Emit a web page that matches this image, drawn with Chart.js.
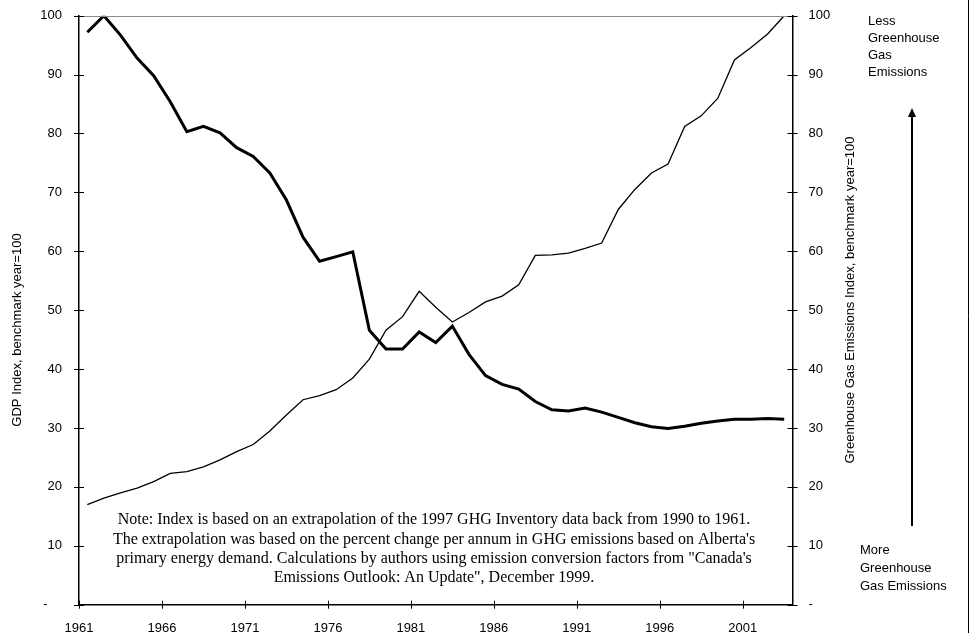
<!DOCTYPE html>
<html>
<head>
<meta charset="utf-8">
<script src="https://cdn.jsdelivr.net/npm/chart.js@4/dist/chart.umd.min.js"></script>
<style>
  html, body { margin: 0; padding: 0; background: #fff; }
  #chart { display: block; }
</style>
</head>
<body>
<canvas id="chart" width="971" height="633"></canvas>
<script>
// Years, one point per year, drawn in the middle of each year slot
const years = [1961, 1962, 1963, 1964, 1965, 1966, 1967, 1968, 1969, 1970,
  1971, 1972, 1973, 1974, 1975, 1976, 1977, 1978, 1979, 1980,
  1981, 1982, 1983, 1984, 1985, 1986, 1987, 1988, 1989, 1990,
  1991, 1992, 1993, 1994, 1995, 1996, 1997, 1998, 1999, 2000,
  2001, 2002, 2003]

// Thin line, rising (GDP index)
const gdpIndex = [17.0, 18.1, 19.0, 19.8, 20.9, 22.3, 22.6, 23.4, 24.6, 26.0,
  27.2, 29.5, 32.2, 34.8, 35.5, 36.5, 38.5, 41.7, 46.6, 48.9,
  53.2, 50.5, 48.0, 49.6, 51.4, 52.4, 54.3, 59.3, 59.4, 59.7,
  60.5, 61.4, 67.1, 70.5, 73.3, 74.8, 81.2, 83.0, 86.0, 92.5,
  94.6, 96.9, 100.0]

// Thick line, falling (GHG emissions index)
const ghgIndex = [97.2, 100.0, 96.7, 92.8, 89.8, 85.4, 80.3, 81.2, 80.1, 77.6,
  76.1, 73.3, 68.7, 62.4, 58.3, 59.1, 59.9, 46.6, 43.4, 43.4,
  46.3, 44.5, 47.3, 42.5, 38.9, 37.4, 36.6, 34.5, 33.1, 32.9,
  33.4, 32.7, 31.8, 30.9, 30.2, 29.9, 30.3, 30.8, 31.2, 31.5,
  31.5, 31.6, 31.5]

const xTickYears = [1961, 1966, 1971, 1976, 1981, 1986, 1991, 1996, 2001]
const yTicks = [0, 10, 20, 30, 40, 50, 60, 70, 80, 90, 100]

const noteLines = [
  'Note: Index is based on an extrapolation of the 1997 GHG Inventory data back from 1990 to 1961.',
  'The extrapolation was based on the percent change per annum in GHG emissions based on Alberta\'s',
  'primary energy demand. Calculations by authors using emission conversion factors from "Canada\'s',
  'Emissions Outlook: An Update", December 1999.'
]
const lessLines = ['Less', 'Greenhouse', 'Gas', 'Emissions']
const moreLines = ['More', 'Greenhouse', 'Gas Emissions']

const SANS = '"Liberation Sans", Arial, sans-serif'
const SERIF = '"Liberation Serif", "Times New Roman", serif'

const toPoints = (vals) => vals.map((v, i) => ({ x: years[i] + 0.5, y: v }))

// Crossing tick marks, titles, note, arrow and frame
const extras = {
  id: 'extras',
  afterDraw(chart) {
    const ctx = chart.ctx
    const area = chart.chartArea
    const xs = chart.scales.x
    const yl = chart.scales.y
    const yr = chart.scales.y2
    ctx.save()

    // gray top border of the plot
    ctx.strokeStyle = '#8c8c8c'
    ctx.lineWidth = 1
    ctx.beginPath()
    ctx.moveTo(area.left, Math.round(area.top) + 0.5)
    ctx.lineTo(area.right, Math.round(area.top) + 0.5)
    ctx.stroke()

    // tick marks that cross the axes
    ctx.strokeStyle = '#000'
    ctx.lineWidth = 1
    ctx.beginPath()
    yTicks.forEach(v => {
      const py = Math.round(yl.getPixelForValue(v)) + 0.5
      ctx.moveTo(area.left - 5, py); ctx.lineTo(area.left + 5, py)
      const pr = Math.round(yr.getPixelForValue(v)) + 0.5
      ctx.moveTo(area.right - 5, pr); ctx.lineTo(area.right + 5, pr)
    })
    xTickYears.forEach(v => {
      const px = Math.round(xs.getPixelForValue(v)) + 0.5
      ctx.moveTo(px, area.bottom - 4); ctx.lineTo(px, area.bottom + 4)
    })
    ctx.stroke()

    // axis titles
    ctx.fillStyle = '#000'
    ctx.font = '13px ' + SANS
    ctx.textAlign = 'center'
    ctx.textBaseline = 'middle'
    ctx.save()
    ctx.translate(17, 330)
    ctx.rotate(-Math.PI / 2)
    ctx.fillText('GDP Index, benchmark year=100', 0, 0)
    ctx.restore()
    ctx.save()
    ctx.translate(850, 300)
    ctx.rotate(-Math.PI / 2)
    ctx.fillText('Greenhouse Gas Emissions Index, benchmark year=100', 0, 0)
    ctx.restore()

    // side annotations
    ctx.textAlign = 'left'
    lessLines.forEach((t, i) => ctx.fillText(t, 868, 21 + i * 17.3))
    moreLines.forEach((t, i) => ctx.fillText(t, 860, 550 + i * 18))

    // arrow
    ctx.lineWidth = 2
    ctx.beginPath()
    ctx.moveTo(912, 526); ctx.lineTo(912, 114)
    ctx.stroke()
    ctx.beginPath()
    ctx.moveTo(912, 108); ctx.lineTo(916, 117); ctx.lineTo(908, 117)
    ctx.closePath()
    ctx.fill()

    // note
    ctx.font = '16px ' + SERIF
    ctx.textAlign = 'center'
    noteLines.forEach((t, i) => ctx.fillText(t, 434, 520 + i * 19.3))

    // frame line at right edge
    ctx.lineWidth = 1
    ctx.beginPath()
    ctx.moveTo(968.5, 0); ctx.lineTo(968.5, 633)
    ctx.stroke()

    ctx.restore()
  }
}

const noPad = (scale) => {
  scale.paddingTop = 0
  scale.paddingBottom = 0
}

new Chart(document.getElementById('chart'), {
  type: 'line',
  data: {
    datasets: [
      {
        label: 'GDP Index',
        data: toPoints(gdpIndex),
        borderColor: '#000',
        borderWidth: 1.3,
        pointRadius: 0,
        tension: 0,
        yAxisID: 'y'
      },
      {
        label: 'GHG Emissions Index',
        data: toPoints(ghgIndex),
        borderColor: '#000',
        borderWidth: 3,
        pointRadius: 0,
        tension: 0,
        yAxisID: 'y2'
      }
    ]
  },
  options: {
    responsive: false,
    animation: false,
    layout: { padding: { top: 15.7, left: 0, right: 0, bottom: 0 } },
    plugins: {
      legend: { display: false },
      tooltip: { enabled: false }
    },
    scales: {
      x: {
        type: 'linear',
        min: 1961,
        max: 2004,
        afterBuildTicks: (scale) => { scale.ticks = xTickYears.map(v => ({ value: v })) },
        afterFit: (scale) => {
          scale.height = 28.3
          scale.paddingLeft = 0
          scale.paddingRight = 0
        },
        grid: { display: false, drawTicks: false },
        border: { color: '#000', width: 1.5 },
        ticks: {
          color: '#000',
          font: { family: SANS, size: 13 },
          padding: 15.5,
          maxRotation: 0,
          autoSkip: false,
          callback: (v) => String(v)
        }
      },
      y: {
        position: 'left',
        min: 0,
        max: 100,
        afterBuildTicks: (scale) => { scale.ticks = yTicks.map(v => ({ value: v })) },
        afterFit: (scale) => { scale.width = 79; noPad(scale) },
        grid: { display: false, drawTicks: false },
        border: { color: '#000', width: 1.5 },
        ticks: {
          color: '#000',
          font: { family: SANS, size: 13 },
          padding: 17,
          callback: (v) => v === 0 ? '-    ' : String(v)
        }
      },
      y2: {
        position: 'right',
        min: 0,
        max: 100,
        afterBuildTicks: (scale) => { scale.ticks = yTicks.map(v => ({ value: v })) },
        afterFit: (scale) => { scale.width = 178.5; noPad(scale) },
        grid: { display: false, drawTicks: false },
        border: { color: '#000', width: 1.5 },
        ticks: {
          color: '#000',
          font: { family: SANS, size: 13 },
          padding: 16,
          callback: (v) => v === 0 ? '-' : String(v)
        }
      }
    }
  },
  plugins: [extras]
})
</script>
</body>
</html>
